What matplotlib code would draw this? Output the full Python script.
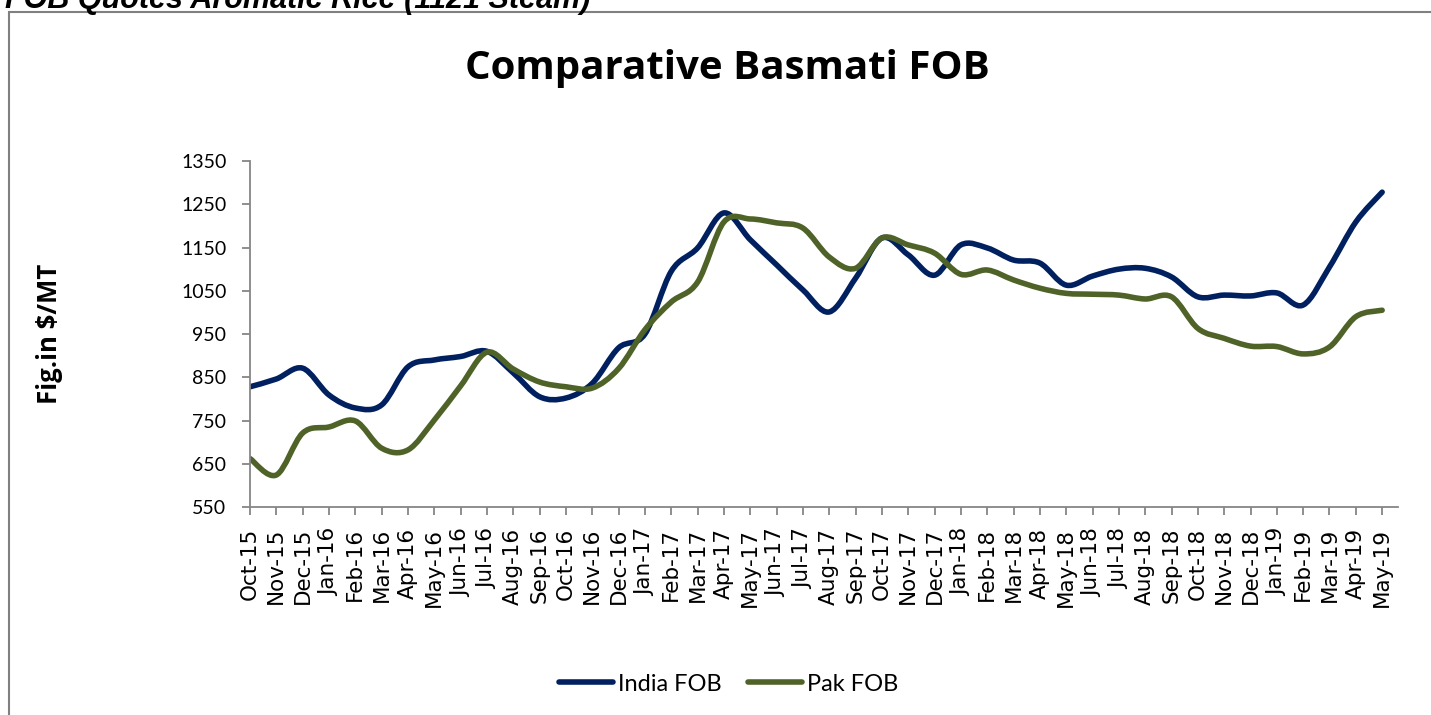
import matplotlib
matplotlib.use("Agg")
import matplotlib.pyplot as plt
from matplotlib.path import Path
from matplotlib.patches import PathPatch, Rectangle
from matplotlib.lines import Line2D

# --- dados ---
months = ["Oct-15", "Nov-15", "Dec-15",
          "Jan-16", "Feb-16", "Mar-16", "Apr-16", "May-16", "Jun-16",
          "Jul-16", "Aug-16", "Sep-16", "Oct-16", "Nov-16", "Dec-16",
          "Jan-17", "Feb-17", "Mar-17", "Apr-17", "May-17", "Jun-17",
          "Jul-17", "Aug-17", "Sep-17", "Oct-17", "Nov-17", "Dec-17",
          "Jan-18", "Feb-18", "Mar-18", "Apr-18", "May-18", "Jun-18",
          "Jul-18", "Aug-18", "Sep-18", "Oct-18", "Nov-18", "Dec-18",
          "Jan-19", "Feb-19", "Mar-19", "Apr-19", "May-19"]
india_fob = [828, 846, 871, 809, 779, 786, 874, 890, 898, 910,
             860, 805, 802, 836, 918, 950, 1095, 1149, 1230, 1168,
             1110, 1052, 1001, 1079, 1172, 1133, 1086, 1156, 1149, 1121,
             1114, 1063, 1084, 1100, 1102, 1082, 1036, 1040, 1038, 1045,
             1017, 1105, 1209, 1278]
pak_fob = [662, 624, 721, 735, 749, 686, 682, 751, 830, 908,
           869, 839, 828, 825, 870, 960, 1024, 1070, 1209, 1216,
           1207, 1195, 1128, 1102, 1172, 1156, 1137, 1088, 1098, 1075,
           1056, 1044, 1042, 1040, 1031, 1036, 963, 940, 922, 921,
           904, 920, 990, 1005]
y_ticks = [550, 650, 750, 850, 950, 1050, 1150, 1250, 1350]

INDIA_COLOR = "#002060"
PAK_COLOR = "#4F6228"
GREY = "#868686"
FONT = "Lato"


def smooth_path(xs, ys):
    # curva suavizada tipo Excel (Bezier cubica, estilo Catmull-Rom)
    n = len(xs)
    verts = [(xs[0], ys[0])]
    codes = [Path.MOVETO]
    for i in range(n - 1):
        xa, ya = (xs[i - 1], ys[i - 1]) if i > 0 else (xs[i], ys[i])
        xb, yb = (xs[i + 2], ys[i + 2]) if i + 2 < n else (xs[i + 1], ys[i + 1])
        c1 = (xs[i] + (xs[i + 1] - xa) / 6, ys[i] + (ys[i + 1] - ya) / 6)
        c2 = (xs[i + 1] - (xb - xs[i]) / 6, ys[i + 1] - (yb - ys[i]) / 6)
        verts += [c1, c2, (xs[i + 1], ys[i + 1])]
        codes += [Path.CURVE4] * 3
    return Path(verts, codes)


fig = plt.figure(figsize=(14.31, 7.15), dpi=100)
ax = fig.add_axes([0.1747, 0.2909, 0.8022, 0.4839])

x = list(range(len(months)))
for vals, col in [(india_fob, INDIA_COLOR), (pak_fob, PAK_COLOR)]:
    ax.add_patch(PathPatch(smooth_path(x, vals), fill=False, edgecolor=col,
                           lw=4, capstyle="round", joinstyle="round"))

ax.set_xlim(0, 43.6)
ax.set_ylim(550, 1350)
ax.set_yticks(y_ticks)
ax.set_yticklabels([str(v) for v in y_ticks], fontfamily=FONT, fontsize=14)
ax.set_xticks(x)
ax.set_xticklabels(months, rotation=90, fontfamily="DejaVu Sans",
                   fontsize=15.5)

for side in ["top", "right"]:
    ax.spines[side].set_visible(False)
for side in ["left", "bottom"]:
    ax.spines[side].set_color(GREY)
    ax.spines[side].set_linewidth(1.3)
ax.tick_params(axis="both", direction="out", length=6, width=1.3, color=GREY)
ax.tick_params(axis="y", pad=11)
ax.tick_params(axis="x", pad=9)

ax.set_ylabel("Fig.in $/MT", fontfamily="Open Sans", fontweight="bold",
              fontsize=18.5)
ax.yaxis.set_label_coords(-0.163, 0.5)

fig.text(0.508, 1 - 79 / 715, "Comparative Basmati FOB", ha="center",
         va="baseline", fontfamily="Open Sans", fontweight="bold", fontsize=29)

fig.text(5 / 1431, 1 - 8 / 715, "FOB Quotes Aromatic Rice (1121 Steam)",
         ha="left", va="baseline", fontfamily="Liberation Sans",
         fontweight="bold", fontstyle="italic", fontsize=22)

# moldura externa do grafico (so esquerda e topo aparecem)
fig.patches.append(Rectangle((9 / 1431, -0.1), 1.2, 1.1 - 12 / 715,
                             transform=fig.transFigure, fill=False,
                             edgecolor="#808080", lw=1.5))

handles = [Line2D([], [], color=INDIA_COLOR, lw=4, solid_capstyle="round"),
           Line2D([], [], color=PAK_COLOR, lw=4, solid_capstyle="round")]
fig.legend(handles, ["India FOB", "Pak FOB"], loc="center",
           bbox_to_anchor=(0.509, 0.043), ncol=2, frameon=False,
           prop={"family": FONT, "size": 17}, handlelength=2.3,
           handletextpad=0.2, columnspacing=1.1)

fig.savefig("out.png", dpi=100)
